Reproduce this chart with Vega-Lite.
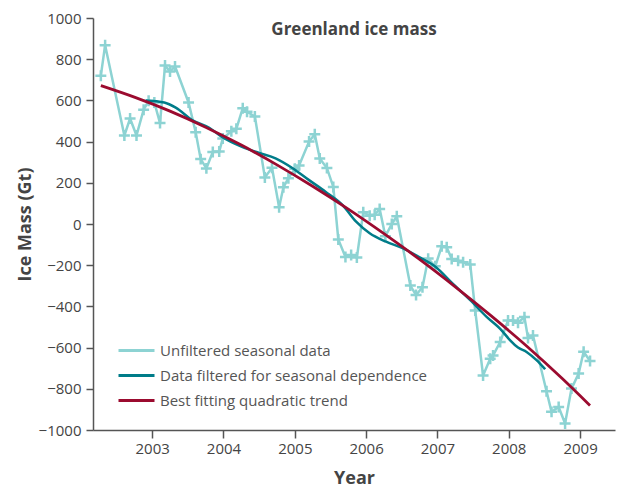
{
  "$schema": "https://vega.github.io/schema/vega-lite/v6.json",
  "width": 522,
  "height": 412,
  "autosize": "none",
  "padding": {"left": 93, "top": 18, "right": 6, "bottom": 60},
  "background": "white",
  "config": {
    "view": {"stroke": null},
    "font": "Open Sans",
    "axis": {"grid": false, "domainColor": "#555555", "tickColor": "#555555", "domainWidth": 1.5, "tickWidth": 1.5, "labelFont": "Open Sans", "labelFontSize": 15, "labelColor": "#444444", "titleFont": "Open Sans", "titleFontSize": 18, "titleFontWeight": "bold", "titleColor": "#444444"}
  },
  "title": {"text": "Greenland ice mass", "anchor": "middle", "frame": "group", "orient": "top", "baseline": "top", "offset": -28, "fontSize": 17, "fontWeight": "bold", "color": "#444444", "font": "Open Sans"},
  "datasets": {
    "raw": [
      {"year": 2002.28, "mass": 720}, {"year": 2002.34, "mass": 868}, {"year": 2002.61, "mass": 430}, {"year": 2002.69, "mass": 512},
      {"year": 2002.78, "mass": 430}, {"year": 2002.88, "mass": 555}, {"year": 2002.95, "mass": 598}, {"year": 2003.03, "mass": 590},
      {"year": 2003.11, "mass": 490}, {"year": 2003.18, "mass": 770}, {"year": 2003.25, "mass": 740}, {"year": 2003.32, "mass": 765},
      {"year": 2003.51, "mass": 590}, {"year": 2003.61, "mass": 445}, {"year": 2003.68, "mass": 315}, {"year": 2003.76, "mass": 270},
      {"year": 2003.85, "mass": 350}, {"year": 2003.94, "mass": 352}, {"year": 2003.99, "mass": 415}, {"year": 2004.11, "mass": 450},
      {"year": 2004.18, "mass": 462}, {"year": 2004.27, "mass": 562}, {"year": 2004.33, "mass": 545}, {"year": 2004.44, "mass": 522},
      {"year": 2004.58, "mass": 226}, {"year": 2004.68, "mass": 273}, {"year": 2004.78, "mass": 81}, {"year": 2004.84, "mass": 178},
      {"year": 2004.91, "mass": 222}, {"year": 2005.0, "mass": 268}, {"year": 2005.06, "mass": 284}, {"year": 2005.2, "mass": 400},
      {"year": 2005.28, "mass": 436}, {"year": 2005.35, "mass": 318}, {"year": 2005.45, "mass": 272}, {"year": 2005.54, "mass": 180},
      {"year": 2005.61, "mass": -75}, {"year": 2005.71, "mass": -160}, {"year": 2005.79, "mass": -150}, {"year": 2005.87, "mass": -163},
      {"year": 2005.96, "mass": 57}, {"year": 2006.05, "mass": 40}, {"year": 2006.12, "mass": 45}, {"year": 2006.19, "mass": 73},
      {"year": 2006.27, "mass": -60}, {"year": 2006.36, "mass": 0}, {"year": 2006.43, "mass": 38}, {"year": 2006.62, "mass": -299},
      {"year": 2006.7, "mass": -345}, {"year": 2006.79, "mass": -307}, {"year": 2006.87, "mass": -168}, {"year": 2006.97, "mass": -205},
      {"year": 2007.06, "mass": -108}, {"year": 2007.13, "mass": -113}, {"year": 2007.2, "mass": -170}, {"year": 2007.29, "mass": -178},
      {"year": 2007.36, "mass": -186}, {"year": 2007.46, "mass": -196}, {"year": 2007.53, "mass": -420}, {"year": 2007.64, "mass": -735},
      {"year": 2007.74, "mass": -654}, {"year": 2007.78, "mass": -638}, {"year": 2007.88, "mass": -573}, {"year": 2007.99, "mass": -468},
      {"year": 2008.06, "mass": -468}, {"year": 2008.13, "mass": -479}, {"year": 2008.22, "mass": -452}, {"year": 2008.27, "mass": -553},
      {"year": 2008.34, "mass": -541}, {"year": 2008.53, "mass": -812}, {"year": 2008.6, "mass": -912}, {"year": 2008.7, "mass": -888},
      {"year": 2008.79, "mass": -968}, {"year": 2008.88, "mass": -799}, {"year": 2008.98, "mass": -726}, {"year": 2009.05, "mass": -620},
      {"year": 2009.14, "mass": -665}
    ],
    "filtered": [
      {"year": 2002.91, "mass": 600}, {"year": 2003.17, "mass": 590}, {"year": 2003.33, "mass": 565}, {"year": 2003.56, "mass": 505},
      {"year": 2003.8, "mass": 467}, {"year": 2003.98, "mass": 422}, {"year": 2004.26, "mass": 374}, {"year": 2004.5, "mass": 345},
      {"year": 2004.73, "mass": 319}, {"year": 2004.97, "mass": 271}, {"year": 2005.2, "mass": 213}, {"year": 2005.43, "mass": 157},
      {"year": 2005.67, "mass": 92}, {"year": 2005.86, "mass": 11}, {"year": 2006.05, "mass": -45}, {"year": 2006.28, "mass": -86},
      {"year": 2006.52, "mass": -118}, {"year": 2006.75, "mass": -162}, {"year": 2006.98, "mass": -210}, {"year": 2007.2, "mass": -285},
      {"year": 2007.46, "mass": -370}, {"year": 2007.69, "mass": -451}, {"year": 2007.9, "mass": -516}, {"year": 2008.02, "mass": -565},
      {"year": 2008.13, "mass": -600}, {"year": 2008.25, "mass": -621}, {"year": 2008.39, "mass": -661}, {"year": 2008.51, "mass": -705}
    ],
    "trend": [
      {"year": 2002.28, "mass": 672}, {"year": 2002.75, "mass": 616}, {"year": 2003.25, "mass": 548}, {"year": 2003.75, "mass": 470},
      {"year": 2004.25, "mass": 383}, {"year": 2004.75, "mass": 287}, {"year": 2005.25, "mass": 183}, {"year": 2005.75, "mass": 72},
      {"year": 2006.25, "mass": -47}, {"year": 2006.75, "mass": -172}, {"year": 2007.25, "mass": -305}, {"year": 2007.75, "mass": -445},
      {"year": 2008.25, "mass": -592}, {"year": 2008.75, "mass": -750}, {"year": 2009.14, "mass": -881}
    ]
  },
  "layer": [
    {
      "data": {"name": "raw"},
      "mark": {"type": "line", "strokeWidth": 2.5, "interpolate": "linear"},
      "encoding": {
        "x": {"field": "year", "type": "quantitative", "scale": {"domain": [2002.17, 2009.49], "nice": false, "zero": false},
          "axis": {"title": "Year", "values": [2003, 2004, 2005, 2006, 2007, 2008, 2009], "format": "d", "tickSize": 8, "labelPadding": 3, "titlePadding": 13}},
        "y": {"field": "mass", "type": "quantitative", "scale": {"domain": [-1000, 1000], "nice": false},
          "axis": {"title": "Ice Mass (Gt)", "values": [-1000, -800, -600, -400, -200, 0, 200, 400, 600, 800, 1000], "format": "d", "tickSize": 7, "labelPadding": 5, "titlePadding": 4}},
        "color": {"datum": "Unfiltered seasonal data", "type": "nominal",
          "scale": {"domain": ["Unfiltered seasonal data", "Data filtered for seasonal dependence", "Best fitting quadratic trend"], "range": ["#8dd3d3", "#007c89", "#9b0b2f"]},
          "legend": {"title": null, "orient": "none", "legendX": 27, "legendY": 316, "symbolType": "M-1.2,0H1.2", "symbolSize": 900, "symbolStrokeWidth": 3, "labelOffset": 7, "labelFontSize": 15, "labelColor": "#555555", "labelFont": "Open Sans", "labelLimit": 0, "rowPadding": 0, "padding": 0}}
      }
    },
    {
      "data": {"name": "raw"},
      "mark": {"type": "point", "shape": "M-1,0H1M0,-1V1", "filled": false, "size": 120, "strokeWidth": 2.5, "color": "#8dd3d3", "opacity": 1},
      "encoding": {
        "x": {"field": "year", "type": "quantitative"},
        "y": {"field": "mass", "type": "quantitative"}
      }
    },
    {
      "data": {"name": "filtered"},
      "mark": {"type": "line", "strokeWidth": 2.5, "interpolate": "monotone"},
      "encoding": {
        "x": {"field": "year", "type": "quantitative"},
        "y": {"field": "mass", "type": "quantitative"},
        "color": {"datum": "Data filtered for seasonal dependence", "type": "nominal"}
      }
    },
    {
      "data": {"name": "trend"},
      "mark": {"type": "line", "strokeWidth": 2.8, "interpolate": "monotone"},
      "encoding": {
        "x": {"field": "year", "type": "quantitative"},
        "y": {"field": "mass", "type": "quantitative"},
        "color": {"datum": "Best fitting quadratic trend", "type": "nominal"}
      }
    }
  ]
}
